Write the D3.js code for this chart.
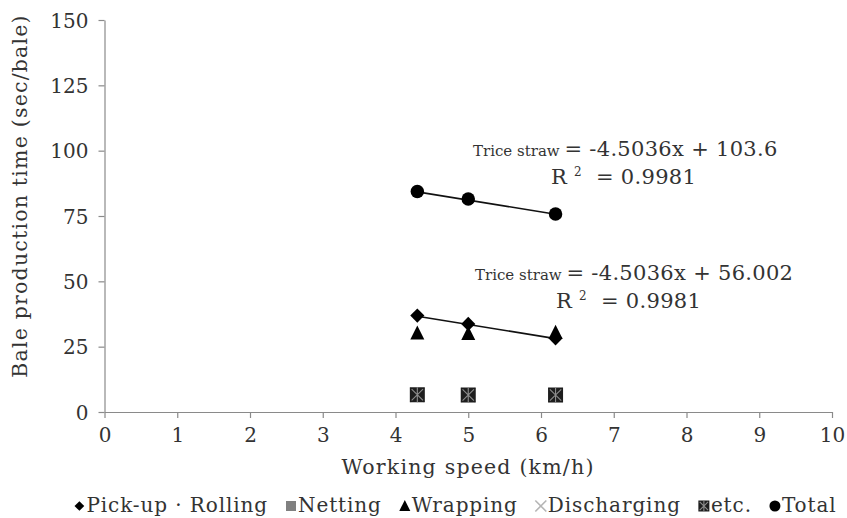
<!DOCTYPE html>
<html>
<head>
<meta charset="utf-8">
<script src="https://cdn.jsdelivr.net/npm/d3@7"></script>
<style>
  html, body { margin: 0; padding: 0; background: #fff; }
  svg { display: block; font-family: "DejaVu Serif", "Liberation Serif", serif; }
</style>
</head>
<body>
<svg id="chart" width="847" height="518"></svg>
<script>
// Working speed (km/h) at which bales were produced
const speeds = [4.3, 5.0, 6.2];

// Bale production time per stage (sec/bale)
const pickupRolling = [36.9, 33.7, 28.2];
const netting       = [6.4, 6.4, 6.4];
const wrapping      = [30.2, 30.0, 30.4];
const discharging   = [6.5, 6.5, 6.5];
const etc           = [6.6, 6.5, 6.5];
const total         = [84.4, 81.5, 75.8];

// Linear fits shown on the chart
const totalFit  = { slope: -4.5036, intercept: 103.6,  r2: 0.9981 };
const pickupFit = { slope: -4.5036, intercept: 56.002, r2: 0.9981 };

const xTicks = [0, 1, 2, 3, 4, 5, 6, 7, 8, 9, 10];
const yTicks = [0, 25, 50, 75, 100, 125, 150];

const legendLabels = ["Pick-up \u00b7 Rolling", "Netting", "Wrapping", "Discharging", "etc.", "Total"];

const svg = d3.select("#chart");
const x = d3.scaleLinear().domain([0, 10]).range([104.5, 832]);
const y = d3.scaleLinear().domain([0, 150]).range([412, 20]);

const axisColor = "#8a8a8a";
const textColor = "#333";

// Axes
const xAxis = svg.append("g")
  .attr("transform", `translate(0,${y(0)})`)
  .call(d3.axisBottom(x).tickValues(xTicks).tickFormat(d3.format("d")).tickSize(6).tickSizeOuter(0));
const yAxis = svg.append("g")
  .attr("transform", `translate(${x(0)},0)`)
  .call(d3.axisLeft(y).tickValues(yTicks).tickFormat(d3.format("d")).tickSize(6).tickSizeOuter(0));

[xAxis, yAxis].forEach(g => {
  g.select(".domain").attr("stroke", axisColor).attr("stroke-width", 1.2);
  g.selectAll(".tick line").attr("stroke", axisColor).attr("stroke-width", 1.2);
  g.selectAll(".tick text")
    .attr("fill", textColor)
    .style("font-family", "DejaVu Serif")
    .style("font-size", "20px");
});
xAxis.selectAll(".tick text").attr("dy", "1.05em");
yAxis.selectAll(".tick text").attr("x", -16).attr("dy", "0.35em");

// Axis titles
svg.append("text")
  .attr("x", 468).attr("y", 474)
  .attr("text-anchor", "middle")
  .attr("fill", textColor)
  .style("font-size", "20.5px")
  .style("letter-spacing", "1.2px")
  .text("Working speed (km/h)");

svg.append("text")
  .attr("transform", "translate(27,196) rotate(-90)")
  .attr("text-anchor", "middle")
  .attr("fill", textColor)
  .style("font-size", "20.5px")
  .style("letter-spacing", "1.2px")
  .text("Bale production time (sec/bale)");

// Trend lines across the measured speed range
const [xMin, xMax] = d3.extent(speeds);
function fitLine(fit) {
  svg.append("line")
    .attr("x1", x(xMin)).attr("y1", y(fit.intercept + fit.slope * xMin))
    .attr("x2", x(xMax)).attr("y2", y(fit.intercept + fit.slope * xMax))
    .attr("stroke", "#111").attr("stroke-width", 1.6);
}
fitLine(totalFit);
fitLine(pickupFit);

// Marker painters
const markers = {
  diamond: (g, s) => g.append("path").attr("d", d3.symbol(d3.symbolDiamond2, s * s * 0.5)()).attr("fill", "#000"),
  square: (g, s) => g.append("rect").attr("x", -s / 2).attr("y", -s / 2).attr("width", s).attr("height", s).attr("fill", "#808080"),
  triangle: (g, s) => g.append("path").attr("d", `M0,${-s * 0.55}L${s * 0.5},${s * 0.45}L${-s * 0.5},${s * 0.45}Z`).attr("fill", "#000"),
  cross: (g, s) => g.append("path").attr("d", `M${-s / 2},${-s / 2}L${s / 2},${s / 2}M${s / 2},${-s / 2}L${-s / 2},${s / 2}`)
    .attr("stroke", "#b5b5b5").attr("stroke-width", 1.6).attr("fill", "none"),
  star: (g, s) => {
    g.append("rect").attr("x", -s / 2).attr("y", -s / 2).attr("width", s).attr("height", s).attr("fill", "#1e1e1e");
    const k = s * 0.38;
    g.append("path").attr("d", `M${-k},${-k}L${k},${k}M${k},${-k}L${-k},${k}M0,${-s / 2}L0,${s / 2}`)
      .attr("stroke", "#8c8c8c").attr("stroke-width", 1.1).attr("fill", "none");
  },
  circle: (g, s) => g.append("circle").attr("r", s / 2).attr("fill", "#000")
};

const series = [
  { values: netting, marker: "square", size: 12 },
  { values: discharging, marker: "cross", size: 14 },
  { values: etc, marker: "star", size: 15 },
  { values: wrapping, marker: "triangle", size: 14 },
  { values: pickupRolling, marker: "diamond", size: 16 },
  { values: total, marker: "circle", size: 13.5 }
];

series.forEach(sr => {
  sr.values.forEach((v, i) => {
    const g = svg.append("g").attr("transform", `translate(${x(speeds[i])},${y(v)})`);
    markers[sr.marker](g, sr.size);
  });
});

// Fit equations
function equation(fit, x0, yBase, xR) {
  const t = svg.append("text").attr("x", x0).attr("y", yBase).attr("fill", textColor);
  t.append("tspan").style("font-size", "15px").text("Trice straw ");
  t.append("tspan").style("font-size", "21px").style("letter-spacing", "0.3px")
    .text(`= ${fit.slope}x + ${fit.intercept}`);
  const r = svg.append("text").attr("x", xR).attr("y", yBase + 28).attr("fill", textColor)
    .style("font-size", "21px").style("letter-spacing", "0.3px");
  r.append("tspan").text("R ");
  r.append("tspan").style("font-size", "12px").attr("dy", "-8").text("2");
  r.append("tspan").attr("dy", "8").text("\u00a0\u00a0= " + fit.r2);
}
equation(totalFit, 473, 156, 551);
equation(pickupFit, 475, 280, 556);

// Legend along the bottom
const legendMarkers = ["diamond", "square", "triangle", "cross", "star", "circle"];
const legendSizes = [11, 10, 11, 11, 11, 11];
const legend = svg.append("g");
let cx = 0;
const ly = 512;
legendLabels.forEach((label, i) => {
  const g = legend.append("g").attr("transform", `translate(${cx + 6},${ly - 6})`);
  markers[legendMarkers[i]](g, legendSizes[i]);
  const t = legend.append("text").attr("x", cx + 13).attr("y", ly)
    .attr("fill", textColor).style("font-size", "20px").style("letter-spacing", "0.9px").text(label);
  cx += 13 + t.node().getComputedTextLength() + 17;
});
const legendWidth = cx - 17;
legend.attr("transform", `translate(${455 - legendWidth / 2},0)`);
</script>
</body>
</html>
